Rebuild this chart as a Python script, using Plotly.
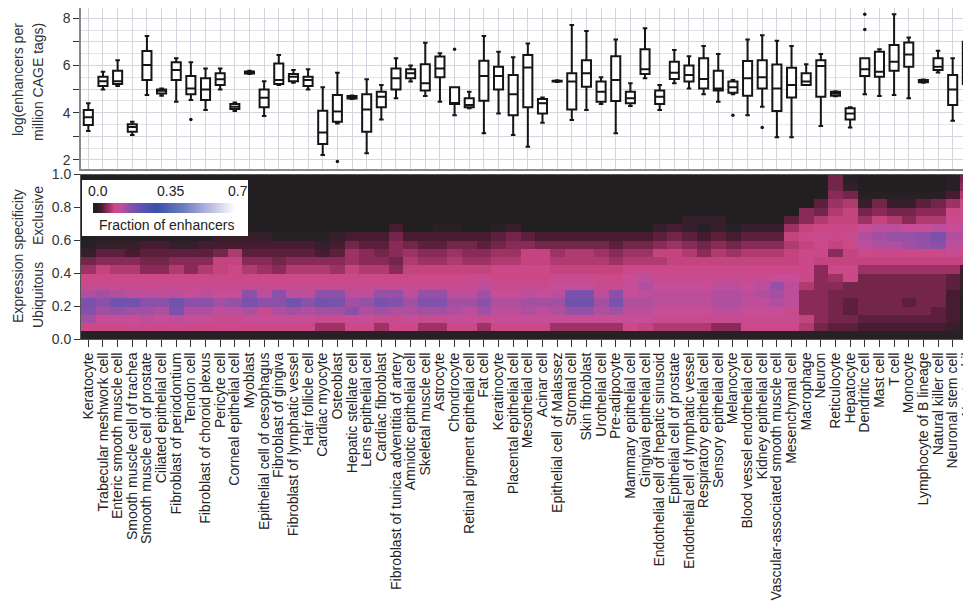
import plotly.graph_objects as go

FONT = "Liberation Sans, Arial, Helvetica, sans-serif"

cell_types = [
    "Keratocyte", "Trabecular meshwork cell", "Enteric smooth muscle cell",
    "Smooth muscle cell of trachea", "Smooth muscle cell of prostate",
    "Ciliated epithelial cell", "Fibroblast of periodontium", "Tendon cell",
    "Fibroblast of choroid plexus", "Pericyte cell", "Corneal epithelial cell",
    "Myoblast", "Epithelial cell of oesophagus", "Fibroblast of gingiva",
    "Fibroblast of lymphatic vessel", "Hair follicle cell", "Cardiac myocyte",
    "Osteoblast", "Hepatic stellate cell", "Lens epithelial cell",
    "Cardiac fibroblast", "Fibroblast of tunica adventitia of artery",
    "Amniotic epithelial cell", "Skeletal muscle cell", "Astrocyte",
    "Chondrocyte", "Retinal pigment epithelial cell", "Fat cell",
    "Keratinocyte", "Placental epithelial cell", "Mesothelial cell",
    "Acinar cell", "Epithelial cell of Malassez", "Stromal cell",
    "Skin fibroblast", "Urothelial cell", "Pre-adipocyte",
    "Mammary epithelial cell", "Gingival epithelial cell",
    "Endothelial cell of hepatic sinusoid", "Epithelial cell of prostate",
    "Endothelial cell of lymphatic vessel", "Respiratory epithelial cell",
    "Sensory epithelial cell", "Melanocyte", "Blood vessel endothelial cell",
    "Kidney epithelial cell", "Vascular-associated smooth muscle cell",
    "Mesenchymal cell", "Macrophage", "Neuron", "Reticulocyte", "Hepatocyte",
    "Dendritic cell", "Mast cell", "T cell", "Monocyte",
    "Lymphocyte of B lineage", "Natural killer cell", "Neuronal stem cell",
    "Neutrophil",
]

# box statistics: log(enhancers per million CAGE tags)
box_low = [3.23, 4.99, 5.13, 3.06, 4.75, 4.72, 4.47, 4.54, 4.12, 4.99,
           4.07, 5.64, 3.86, 5.18, 5.27, 4.99, 2.21, 3.55, 4.58, 2.28,
           3.72, 4.61, 5.32, 4.71, 4.47, 3.90, 4.19, 3.13, 3.97, 3.06,
           2.56, 3.58, 5.30, 3.69, 4.12, 4.37, 3.13, 4.29, 5.46, 4.12,
           5.25, 5.03, 4.78, 4.47, 4.79, 3.90, 4.26, 2.96, 2.96, 5.18,
           3.44, 4.70, 3.38, 4.78, 4.71, 4.75, 4.61, 5.27, 5.71, 3.66,
           4.47]
box_q1 = [3.48, 5.13, 5.22, 3.20, 5.39, 4.82, 5.39, 4.78, 4.54, 5.18,
          4.16, 5.66, 4.23, 5.22, 5.34, 5.13, 2.68, 3.62, 4.60, 3.20,
          4.23, 4.99, 5.46, 4.94, 5.50, 4.37, 4.23, 4.51, 4.99, 3.90,
          4.23, 3.97, 5.32, 4.14, 5.10, 4.47, 4.50, 4.40, 5.64, 4.37,
          5.43, 5.32, 5.03, 4.94, 4.85, 4.72, 5.03, 4.07, 4.65, 5.18,
          4.68, 4.72, 3.72, 5.56, 5.53, 5.78, 5.95, 5.29, 5.81, 4.33,
          5.22]
box_median = [3.81, 5.34, 5.34, 3.40, 6.02, 4.93, 5.81, 5.03, 4.99, 5.42,
              4.26, 5.71, 4.64, 5.39, 5.53, 5.39, 3.16, 4.05, 4.65, 4.14,
              4.68, 5.46, 5.67, 5.25, 5.88, 4.40, 4.33, 5.56, 5.56, 4.79,
              5.92, 4.40, 5.34, 5.32, 5.67, 4.89, 5.39, 4.61, 5.84, 4.68,
              5.70, 5.60, 5.43, 5.03, 5.08, 5.46, 5.50, 5.03, 5.18, 5.32,
              5.98, 4.82, 3.97, 5.84, 5.74, 6.16, 6.47, 5.34, 5.95, 4.99,
              5.95]
box_q3 = [4.12, 5.53, 5.78, 3.51, 6.62, 4.99, 6.14, 5.56, 5.46, 5.67,
          4.37, 5.75, 4.99, 6.09, 5.64, 5.53, 4.09, 4.75, 4.71, 4.78,
          4.89, 5.88, 5.84, 6.06, 6.38, 5.08, 4.61, 6.20, 5.95, 5.60,
          6.45, 4.58, 5.36, 5.67, 6.23, 5.32, 6.40, 4.89, 6.69, 4.94,
          6.16, 6.00, 6.31, 5.78, 5.32, 6.19, 6.23, 6.05, 5.91, 5.67,
          6.23, 4.89, 4.19, 6.31, 6.59, 6.87, 6.98, 5.39, 6.31, 5.60,
          7.01]
box_high = [4.40, 5.74, 6.23, 3.62, 7.25, 5.03, 6.31, 6.14, 5.88, 5.88,
            4.43, 5.78, 5.34, 6.45, 5.81, 5.84, 5.08, 5.70, 4.73, 5.42,
            5.18, 6.31, 6.00, 6.97, 6.52, 5.08, 4.89, 7.25, 6.59, 6.35,
            6.94, 4.65, 5.38, 7.72, 7.46, 5.50, 7.11, 5.25, 7.58, 5.18,
            6.66, 6.40, 6.83, 6.49, 5.39, 7.11, 7.29, 7.05, 6.83, 6.06,
            6.49, 4.91, 4.23, 6.31, 6.69, 8.18, 7.19, 5.41, 6.63, 6.31,
            8.07]

outlier_cells = ["Tendon cell", "Osteoblast", "Chondrocyte", "Melanocyte",
                 "Kidney epithelial cell", "Dendritic cell", "Dendritic cell"]
outlier_values = [3.72, 1.93, 6.69, 3.90, 3.38, 8.18, 7.53]

# expression specificity heatmap: fraction of enhancers (in %) per 0.05 bin
bin_centers = [0.025, 0.075, 0.125, 0.175, 0.225, 0.275, 0.325, 0.375, 0.425, 0.475,
               0.525, 0.575, 0.625, 0.675, 0.725, 0.775, 0.825, 0.875, 0.925, 0.975]
bin_00 = [2,2,2,2,2,2,2,2,2,2, 2,2,2,2,2,2,2,2,2,2, 2,2,2,2,2,2,2,2,2,2,
          2,2,2,2,2,2,2,2,2,2, 2,2,2,2,2,2,2,2,2,2, 2,2,2,2,2,2,2,2,2,2, 2]
bin_05 = [11,11,11,12,11,11,11,11,11,11, 11,11,11,11,11,11,8,8,11,11,
          8,11,11,8,8,11,11,8,11,11, 11,11,8,8,8,8,8,11,10,9,
          9,9,9,7,7,11,11,11,11,9, 6,5,5,4,4,4,4,4,4,3, 2]
bin_10 = [16,13,13,13,14,13,14,13,13,12, 12,13,13,13,13,13,12,12,13,13,
          12,12,13,12,12,13,13,12,13,13, 13,13,13,13,13,13,13,13,13,12,
          12,12,12,12,12,12,12,12,12,10, 7,6,6,5,5,5,5,5,5,4, 2]
bin_15 = [19,16,17,16,16,15,20,15,15,14, 14,15,12,15,16,15,16,16,18,15,
          16,15,15,16,16,15,14,16,14,14, 15,14,15,17,17,15,16,14,14,13,
          13,13,13,14,14,13,13,13,12,7, 7,6,5,6,6,6,6,6,5,4, 2]
bin_20 = [20,18,21,21,18,18,21,18,18,16, 17,20,18,18,21,18,21,20,16,17,
          20,19,16,19,19,16,16,18,15,15, 16,16,16,21,21,16,20,15,15,14,
          14,14,14,15,15,14,14,15,14,7, 7,6,5,6,6,6,5,6,6,4, 2]
bin_25 = [15,16,15,14,14,14,14,13,14,13, 13,18,14,18,14,14,18,18,14,14,
          17,17,14,17,17,14,14,16,13,13, 14,13,14,20,20,14,18,13,14,14,
          14,14,14,15,15,14,15,16,14,7, 7,6,6,6,6,6,6,6,6,4, 2]
bin_30 = [12,12,12,12,12,12,12,12,12,12, 12,12,12,12,12,12,12,12,12,12,
          12,12,12,12,12,12,12,14,12,12, 12,12,13,13,13,12,12,13,15,13,
          13,13,13,14,14,13,14,17,14,9, 7,7,6,6,6,6,6,6,6,5, 3]
bin_35 = [11,11,11,11,11,11,11,11,11,11, 11,11,11,11,11,11,11,11,11,11,
          11,11,11,11,11,11,11,12,11,11, 11,11,12,12,12,11,11,13,14,12,
          12,12,12,12,12,12,12,13,13,11, 7,8,11,6,6,6,6,6,6,5, 3]
bin_40 = [8,10,9,9,7,7,9,7,9,10, 11,9,8,7,9,9,9,8,10,9,
          9,7,10,10,10,10,10,10,11,11, 11,11,10,10,10,10,10,11,11,11,
          11,11,11,11,11,11,11,11,11,11, 7,11,11,8,8,8,8,8,8,8, 4]
bin_45 = [6,7,7,7,6,6,7,7,7,10, 10,7,7,6,7,7,7,7,8,7,
          7,6,9,8,8,9,8,8,9,9, 10,10,9,9,9,9,8,9,9,9,
          10,10,10,10,10,10,10,10,10,11, 10,10,10,10,10,10,10,10,10,10, 10]
bin_50 = [3,5,5,4,5,5,5,5,5,6, 9,5,5,5,5,5,4,5,8,7,
          6,7,8,7,7,8,7,7,8,8, 10,10,8,9,9,8,7,8,8,10,
          10,9,7,9,8,9,9,9,10,11, 11,7,10,11,11,11,11,11,11,12, 11]
bin_55 = [2,3,3,3,4,4,3,3,4,4, 4,4,4,4,4,4,3,4,6,5,
          5,7,6,5,5,6,6,5,6,7, 7,6,6,6,6,6,5,6,6,7,
          8,7,6,7,6,7,7,7,9,10, 11,10,11,14,15,15,16,17,18,14, 13]
bin_60 = [1,2,2,2,2,2,2,2,2,3, 3,3,3,2,2,2,2,3,4,4,
          4,6,4,4,4,4,4,4,5,6, 5,4,4,4,4,4,4,4,4,5,
          6,5,4,5,4,5,5,5,10,11, 12,11,12,15,16,17,17,18,20,15, 15]
bin_65 = [1,1,1,1,1,1,1,1,1,1, 1,1,1,1,1,1,1,1,1,1,
          1,4,1,1,2,2,1,1,2,3, 1,1,1,1,1,1,1,1,1,3,
          4,3,2,3,2,3,3,3,8,10, 11,11,11,13,14,14,13,13,14,13, 14]
bin_70 = [1,1,1,1,1,1,1,1,1,1, 1,1,1,1,1,1,1,1,1,1,
          1,1,1,1,1,1,1,1,1,1, 1,1,1,1,1,1,1,1,1,1,
          1,3,3,3,1,1,1,1,5,7, 9,10,10,8,10,9,7,9,9,12, 13]
bin_75 = [1,1,1,1,1,1,1,1,1,1, 1,1,1,1,1,1,1,1,1,1,
          1,1,1,1,1,1,1,1,1,1, 1,1,1,1,1,1,1,1,1,1,
          1,1,1,1,1,1,1,1,1,7, 6,9,10,6,7,6,6,7,7,11, 12]
bin_80 = [1,1,1,1,1,1,1,1,1,1, 1,1,1,1,1,1,1,1,1,1,
          1,1,1,1,1,1,1,1,1,1, 1,1,1,1,1,1,1,1,1,1,
          1,1,1,1,1,1,1,1,1,1, 5,8,9,3,6,3,3,5,6,8, 11]
bin_85 = [1,1,1,1,1,1,1,1,1,1, 1,1,1,1,1,1,1,1,1,1,
          1,1,1,1,1,1,1,1,1,1, 1,1,1,1,1,1,1,1,1,1,
          1,1,1,1,1,1,1,1,1,1, 1,7,6,2,2,2,2,2,2,4, 9]
bin_90 = [1,1,1,1,1,1,1,1,1,1, 1,1,1,1,1,1,1,1,1,1,
          1,1,1,1,1,1,1,1,1,1, 1,1,1,1,1,1,1,1,1,1,
          1,1,1,1,1,1,1,1,1,1, 1,6,3,1,1,1,1,1,1,2, 7]
bin_95 = [1,1,1,1,1,1,1,1,1,1, 1,1,1,1,1,1,1,1,1,1,
          1,1,1,1,1,1,1,1,1,1, 1,1,1,1,1,1,1,1,1,1,
          1,1,1,1,1,1,1,1,1,1, 1,6,2,1,1,1,1,1,1,2, 6]

colorbar_ticks = [0.0, 0.35, 0.7]
colorbar_ticktext = ["0.0", "0.35", "0.7"]

rows_pct = [bin_00, bin_05, bin_10, bin_15, bin_20, bin_25, bin_30, bin_35, bin_40, bin_45,
            bin_50, bin_55, bin_60, bin_65, bin_70, bin_75, bin_80, bin_85, bin_90, bin_95]
z = [[v / 100.0 for v in row] for row in rows_pct]

xi = list(range(len(cell_types)))
pos = {c: i for i, c in enumerate(cell_types)}

# page body has an 8px margin: figure is sized so its right/bottom meet the window edge
W, H = 963, 607
ML, MT, MB = 73, 0, 276
PW, PH = W - ML, H - MT - MB


def px(win_x):
    return (win_x - 8 - ML) / PW


def py(win_y):
    return (H - MB - (win_y - 8)) / PH


fig = go.Figure()

fig.add_trace(go.Box(
    x=xi, q1=box_q1, median=box_median, q3=box_q3,
    lowerfence=box_low, upperfence=box_high,
    xaxis="x", yaxis="y", fillcolor="white",
    line=dict(color="#151515", width=2), width=0.62,
    boxpoints=False, showlegend=False, hoverinfo="skip",
))
fig.add_trace(go.Scatter(
    x=[pos[c] for c in outlier_cells], y=outlier_values, mode="markers",
    marker=dict(color="#151515", size=3.5), xaxis="x", yaxis="y",
    showlegend=False, hoverinfo="skip",
))

colorscale = [
    [0.0, "#1e1e1e"], [0.03, "#272024"], [0.06, "#4a1c32"], [0.1, "#8a2a58"],
    [0.15, "#cc4884"], [0.19, "#c64e98"], [0.25, "#9050a8"], [0.32, "#6454b0"],
    [0.45, "#3a50a8"], [0.65, "#7080c4"], [0.85, "#c4c4e6"], [1.0, "#ffffff"],
]

fig.add_trace(go.Heatmap(
    z=z, x=xi, y=bin_centers, xaxis="x2", yaxis="y2",
    colorscale=colorscale, zmin=0, zmax=0.7, hoverinfo="skip",
    colorbar=dict(
        orientation="h", x=px(93), xanchor="left", y=py(208), yanchor="middle",
        lenmode="pixels", len=142, thickness=10,
        tickvals=colorbar_ticks, showticklabels=False, ticks="",
        title=dict(text=""), bgcolor="rgba(0,0,0,0)", outlinewidth=0,
        xpad=0, ypad=0,
    ),
))

grid = "#d3d6dc"
label_font = dict(family=FONT, size=14, color="#222")
title_font = dict(family=FONT, size=14, color="#333")
fig.update_layout(
    width=W, height=H,
    margin=dict(l=ML, r=0, t=MT, b=MB),
    paper_bgcolor="white", plot_bgcolor="white",
    font=dict(family=FONT, size=14, color="#222"),
    showlegend=False,
    xaxis=dict(
        domain=[0, 1], anchor="y", range=[-0.5, 60.25],
        tickvals=xi, showticklabels=False, ticks="",
        showgrid=True, gridcolor=grid, gridwidth=1, zeroline=False,
        showline=True, linecolor="#8a8a8a", linewidth=1.5, mirror=True,
        automargin=False,
    ),
    yaxis=dict(
        domain=[py(169.4), 1], anchor="x", range=[1.6, 8.44],
        tickvals=[2, 3, 4, 5, 6, 7, 8], ticktext=["2", "", "4", "", "6", "", "8"],
        ticks="outside", ticklen=6, tickcolor="#333", tickwidth=1.3,
        showgrid=True, gridcolor=grid, zeroline=False,
        minor=dict(tickvals=[1.5, 2.5, 3.5, 4.5, 5.5, 6.5, 7.5], showgrid=True,
                   gridcolor="#e3e5e9", ticks=""),
        showline=True, linecolor="#8a8a8a", linewidth=1.5, mirror=True,
        tickfont=dict(size=14, color="#333"), automargin=False,
    ),
    xaxis2=dict(
        domain=[0, 1], anchor="y2", range=[-0.5, 60.25],
        tickvals=xi, ticktext=cell_types, tickangle=-90,
        ticks="outside", ticklen=7, tickcolor="#333", tickwidth=1.3,
        ticklabeloverflow="allow",
        showgrid=False, zeroline=False,
        showline=True, linecolor="#555", linewidth=1, mirror=True,
        tickfont=dict(size=14, color="#222"), automargin=False,
    ),
    yaxis2=dict(
        domain=[0, py(174.5)], anchor="x2", range=[0, 1],
        tickvals=[0, 0.2, 0.4, 0.6, 0.8, 1.0],
        ticktext=["0.0", "0.2", "0.4", "0.6", "0.8", "1.0"],
        ticks="outside", ticklen=6, tickcolor="#333", tickwidth=1.3,
        showgrid=False, zeroline=False,
        showline=True, linecolor="#555", linewidth=1, mirror=True,
        tickfont=dict(size=14, color="#333"), automargin=False,
    ),
    shapes=[
        dict(type="rect", xref="paper", yref="paper", layer="above",
             x0=px(82), x1=px(248), y0=py(236), y1=py(180),
             fillcolor="white", line=dict(width=0)),
    ],
    annotations=[
        dict(text="log(enhancers per", textangle=-90,
             xref="paper", yref="paper", x=px(18), y=py(80),
             xanchor="center", yanchor="middle", showarrow=False, font=title_font),
        dict(text="million CAGE tags)", textangle=-90,
             xref="paper", yref="paper", x=px(38), y=py(82),
             xanchor="center", yanchor="middle", showarrow=False, font=title_font),
        dict(text="Expression specificity", textangle=-90,
             xref="paper", yref="paper", x=px(18), y=py(256),
             xanchor="center", yanchor="middle", showarrow=False, font=title_font),
        dict(text="Exclusive", textangle=-90,
             xref="paper", yref="paper", x=px(38), y=py(216),
             xanchor="center", yanchor="middle", showarrow=False, font=title_font),
        dict(text="Ubiquitous", textangle=-90,
             xref="paper", yref="paper", x=px(38), y=py(295),
             xanchor="center", yanchor="middle", showarrow=False, font=title_font),
        dict(text=colorbar_ticktext[0], xref="paper", yref="paper",
             x=px(98), y=py(191), xanchor="center", yanchor="middle",
             showarrow=False, font=label_font),
        dict(text=colorbar_ticktext[1], xref="paper", yref="paper",
             x=px(170), y=py(191), xanchor="center", yanchor="middle",
             showarrow=False, font=label_font),
        dict(text=colorbar_ticktext[2], xref="paper", yref="paper",
             x=px(238), y=py(191), xanchor="center", yanchor="middle",
             showarrow=False, font=label_font),
        dict(text="Fraction of enhancers", xref="paper", yref="paper",
             x=px(166), y=py(225), xanchor="center", yanchor="middle",
             showarrow=False, font=label_font),
    ],
)

fig.write_html("out.html")
